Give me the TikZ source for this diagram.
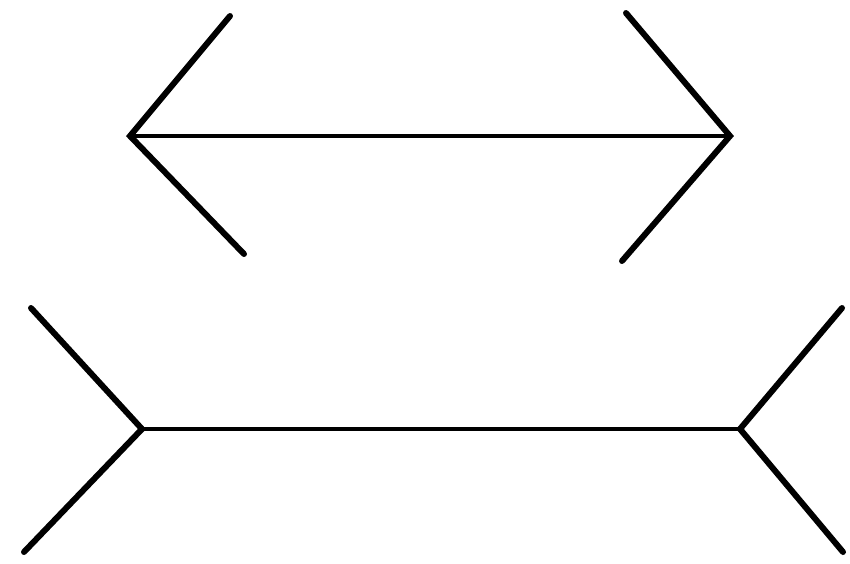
\documentclass[tikz,border=0pt]{standalone}
\begin{document}
\begin{tikzpicture}[x=1pt,y=-1pt,
  shaft/.style={line width=4.5pt,line cap=round,draw=black},
  fin/.style={line width=6pt,line cap=round,draw=black}]
\useasboundingbox (0,0) rectangle (850,563);
% top figure (arrowheads inward)
\coordinate (tl) at (130,136);
\coordinate (tr) at (730,136);
\coordinate (tlu) at (230,16);
\coordinate (tld) at (244,254);
\coordinate (tru) at (626,13);
\coordinate (trd) at (622,261);
% bottom figure (fins outward)
\coordinate (bl) at (142,429);
\coordinate (br) at (740,429);
\coordinate (blu) at (31,308);
\coordinate (bld) at (24,552);
\coordinate (bru) at (842,308);
\coordinate (brd) at (843,552);
\draw[shaft] (tl) -- (tr);
\draw[fin] (tlu) -- (tl) -- (tld);
\draw[fin] (tru) -- (tr) -- (trd);
\draw[shaft] (bl) -- (br);
\draw[fin] (blu) -- (bl) -- (bld);
\draw[fin] (bru) -- (br) -- (brd);
\end{tikzpicture}
\end{document}
